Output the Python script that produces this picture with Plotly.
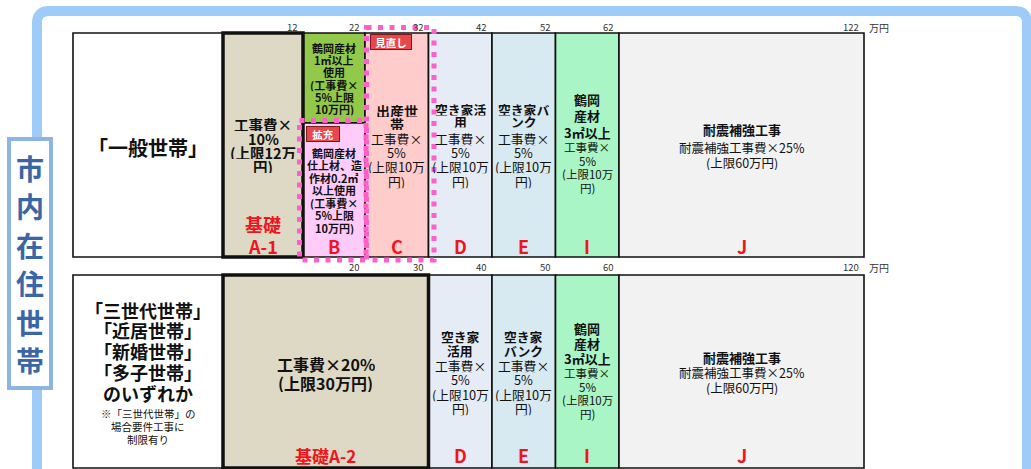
import numpy as np
import plotly.graph_objects as go

# ---------------- data ----------------
SIDE_LABEL = "市内在住世帯"
UNIT = "万円"

ROW1_LABEL = "「一般世帯」"
ROW1_SEGMENTS = ["A-1", "B", "C", "D", "E", "I", "J"]
ROW1_AMOUNTS = [12, 10, 10, 10, 10, 10, 60]          # 上限額（万円）
ROW1_TICKS = [12, 22, 32, 42, 52, 62, 122]

ROW2_LABEL_LINES = ["「三世代世帯」", "「近居世帯」", "「新婚世帯」", "「多子世帯」", "のいずれか"]
ROW2_NOTE_LINES = ["※「三世代世帯」の", "場合要件工事に", "制限有り"]
ROW2_SEGMENTS = ["A-2", "D", "E", "I", "J"]
ROW2_AMOUNTS = [30, 10, 10, 10, 60]
ROW2_TICKS = [20, 30, 40, 50, 60, 120]

# cell texts
TXT_A1 = ["工事費×", "10%", "(上限12万", "円)"]
TXT_B_GREEN = ["鶴岡産材", "1㎡以上", "使用", "(工事費×", "5%上限", "10万円)"]
TXT_B_PINK = ["鶴岡産材", "仕上材、造", "作材0.2㎡", "以上使用", "(工事費×", "5%上限", "10万円)"]
TXT_5PCT = ["工事費×", "5%", "(上限10万", "円)"]
HEAD_C = ["出産世", "帯"]
HEAD_D1 = ["空き家活", "用"]
HEAD_E1 = ["空き家バ", "ンク"]
HEAD_D2 = ["空き家", "活用"]
HEAD_E2 = ["空き家", "バンク"]
HEAD_I = ["鶴岡", "産材", "3㎡以上"]
HEAD_J = ["耐震補強工事"]
BODY_J = ["耐震補強工事費×25%", "(上限60万円)"]
TXT_A2 = ["工事費×20%", "(上限30万円)"]

# ---------------- style / layout ----------------
W, H = 1031, 469
FONT = "Noto Sans CJK JP"
# schematic (non-linear) horizontal scale: value breakpoints -> pixel positions
R1_VAL = [0, 12, 22, 62, 122]
R1_PX = [223, 303, 365, 619, 864]
R2_VAL = [0, 20, 60, 120]
R2_PX = [223, 365, 619, 864]
R1_Y = (33, 257)
R1_SPLIT = 123
R2_Y = (275, 468)
LABEL_X = (73, 223)

COLORS = {"A-1": "#DDD9C4", "A-2": "#DDD9C4", "B_top": "#92C94A", "B_bot": "#FFCCFA",
          "C": "#FFCCCC", "D": "#E6ECF5", "E": "#D7E9F1", "I": "#AAF5C6", "J": "#F2F2F2"}
RED = "#F0141E"
PINK = "#FF5FCB"
FRAME = "#9ECBF7"


def sx1(v):
    return float(np.interp(v, R1_VAL, R1_PX))


def sx2(v):
    return float(np.interp(v, R2_VAL, R2_PX))


fig = go.Figure()

thin = dict(base=[], x=[], y=[], w=[], c=[])
thick = dict(base=[], x=[], y=[], w=[], c=[])


def add_cell(store, x0, x1, y0, y1, color):
    store["base"].append(x0)
    store["x"].append(x1 - x0)
    store["y"].append((y0 + y1) / 2)
    store["w"].append(y1 - y0)
    store["c"].append(color)


centers1 = {}
start = 0
for seg, amt in zip(ROW1_SEGMENTS, ROW1_AMOUNTS):
    x0, x1 = sx1(start), sx1(start + amt)
    centers1[seg] = (x0 + x1) / 2
    if seg == "B":
        add_cell(thin, x0, x1, R1_Y[0], R1_SPLIT, COLORS["B_top"])
        add_cell(thin, x0, x1, R1_SPLIT, R1_Y[1], COLORS["B_bot"])
    elif seg.startswith("A"):
        add_cell(thick, x0, x1, R1_Y[0], R1_Y[1], COLORS[seg])
    else:
        add_cell(thin, x0, x1, R1_Y[0], R1_Y[1], COLORS[seg])
    start += amt

centers2 = {}
start = 0
for seg, amt in zip(ROW2_SEGMENTS, ROW2_AMOUNTS):
    x0, x1 = sx2(start), sx2(start + amt)
    centers2[seg] = (x0 + x1) / 2
    if seg.startswith("A"):
        add_cell(thick, x0, x1, R2_Y[0], R2_Y[1], COLORS[seg])
    else:
        add_cell(thin, x0, x1, R2_Y[0], R2_Y[1], COLORS[seg])
    start += amt

for store, lw in ((thin, 1.6), (thick, 3.5)):
    fig.add_trace(go.Bar(orientation="h", base=store["base"], x=store["x"], y=store["y"],
                         width=store["w"],
                         marker=dict(color=store["c"], line=dict(color="#111111", width=lw)),
                         hoverinfo="skip", showlegend=False))

shapes = []
# outer light-blue frame
shapes.append(dict(type="path", path="M 37,490 L 37,23 Q 37,11 49,11 L 1015,11 Q 1027,11 1027,23 L 1027,490",
                   line=dict(color=FRAME, width=10), layer="below"))
# white label cells
for (y0, y1) in (R1_Y, R2_Y):
    shapes.append(dict(type="rect", x0=LABEL_X[0], x1=LABEL_X[1], y0=y0, y1=y1,
                       line=dict(color="#111111", width=1.6), fillcolor="white", layer="below"))
# side label box
shapes.append(dict(type="rect", x0=9, x1=51, y0=139, y1=388,
                   line=dict(color="#8DB4E2", width=4), fillcolor="white", layer="below"))
# pink dotted boxes (拡充 / 見直し)
b_x0, b_x1 = sx1(12), sx1(22)
c_x1 = sx1(32)
shapes.append(dict(type="rect", x0=b_x0 - 3.5, x1=b_x1 + 1, y0=R1_SPLIT - 2.5, y1=R1_Y[1] + 3,
                   line=dict(color=PINK, width=5, dash="5px,6.5px"), layer="above"))
shapes.append(dict(type="rect", x0=b_x1 + 1.5, x1=c_x1 + 5.5, y0=R1_Y[0] - 5.5, y1=R1_Y[1] + 3,
                   line=dict(color=PINK, width=5, dash="5px,6.5px"), layer="above"))

fig.update_layout(shapes=shapes)


def add_lines(x, y0, dy, lines, size, bold=False, color="#111111"):
    for i, t in enumerate(lines):
        kw = {}
        if len(lines) > 1 and dy < size * 1.35:
            kw["height"] = dy
        fig.add_annotation(x=x, y=y0 + i * dy, text=f"<b>{t}</b>" if bold else t,
                           showarrow=False, xanchor="center", yanchor="middle", borderpad=0,
                           font=dict(size=size, color=color, family=FONT), **kw)


# side label
for i, ch in enumerate(SIDE_LABEL):
    fig.add_annotation(x=30, y=168 + i * 38.4, text=f"<b>{ch}</b>", showarrow=False, borderpad=0,
                       font=dict(size=28, color="#3A66A6", family=FONT))

# ---- row 1 ----
lab_cx = (LABEL_X[0] + LABEL_X[1]) / 2
add_lines(lab_cx, 147, 0, [ROW1_LABEL], 20, bold=True)
add_lines(centers1["A-1"], 124, 14, TXT_A1, 14.5, bold=True)
add_lines(centers1["A-1"], 224, 0, ["基礎"], 18, bold=True, color=RED)
add_lines(centers1["B"], 48, 12.2, TXT_B_GREEN, 11, bold=True)
add_lines(centers1["B"], 153, 12.5, TXT_B_PINK, 11, bold=True)
add_lines(centers1["C"], 110, 13, HEAD_C, 14, bold=True)
add_lines(centers1["C"], 138, 14.2, TXT_5PCT, 12.8)
add_lines(centers1["D"], 109, 12.5, HEAD_D1, 12.8, bold=True)
add_lines(centers1["D"], 138, 14.2, TXT_5PCT, 12.8)
add_lines(centers1["E"], 109, 12.5, HEAD_E1, 12.8, bold=True)
add_lines(centers1["E"], 138, 14.2, TXT_5PCT, 12.8)
add_lines(centers1["I"], 99, 16.5, HEAD_I, 13, bold=True)
add_lines(centers1["I"], 147, 13.5, TXT_5PCT, 11.5)
add_lines(centers1["J"], 129, 0, HEAD_J, 13, bold=True)
add_lines(centers1["J"], 147, 15, BODY_J, 12.5)
for seg in ROW1_SEGMENTS:
    add_lines(centers1[seg], 246, 0, [seg], 18, bold=True, color=RED)

# ---- row 2 ----
add_lines(lab_cx, 310, 20.8, ROW2_LABEL_LINES, 18, bold=True)
add_lines(lab_cx, 413, 13, ROW2_NOTE_LINES, 10.5)
add_lines(centers2["A-2"], 363, 19, TXT_A2, 16, bold=True)
add_lines(centers2["A-2"], 455, 0, ["基礎A-2"], 17, bold=True, color=RED)
add_lines(centers2["D"], 337, 13.5, HEAD_D2, 12.8, bold=True)
add_lines(centers2["D"], 365, 14.3, TXT_5PCT, 12.8)
add_lines(centers2["E"], 337, 13.5, HEAD_E2, 12.8, bold=True)
add_lines(centers2["E"], 365, 14.3, TXT_5PCT, 12.8)
add_lines(centers2["I"], 328, 15, HEAD_I, 13, bold=True)
add_lines(centers2["I"], 373, 13.7, TXT_5PCT, 11.5)
add_lines(centers2["J"], 357, 0, HEAD_J, 13, bold=True)
add_lines(centers2["J"], 372, 15, BODY_J, 12.5)
for seg in ROW2_SEGMENTS[1:]:
    add_lines(centers2[seg], 455, 0, [seg], 18, bold=True, color=RED)

# ---- tick labels ----
for v in ROW1_TICKS:
    fig.add_annotation(x=sx1(v) - 3, y=27, text=str(v), showarrow=False, xanchor="right",
                       yanchor="middle", font=dict(size=9.5, color="#333333", family=FONT))
fig.add_annotation(x=sx1(ROW1_TICKS[-1]) + 3, y=27, text=UNIT, showarrow=False, xanchor="left",
                   yanchor="middle", font=dict(size=10, color="#333333", family=FONT))
for v in ROW2_TICKS:
    fig.add_annotation(x=sx2(v) - 3, y=267, text=str(v), showarrow=False, xanchor="right",
                       yanchor="middle", font=dict(size=9.5, color="#333333", family=FONT))
fig.add_annotation(x=sx2(ROW2_TICKS[-1]) + 3, y=267, text=UNIT, showarrow=False, xanchor="left",
                   yanchor="middle", font=dict(size=10, color="#333333", family=FONT))

# ---- tags ----
fig.add_annotation(x=b_x0 + 19.5, y=134, text="<b>拡充</b>", showarrow=False, width=32, height=14,
                   bgcolor="#E8474B", bordercolor="#7A1C1C", borderwidth=1, borderpad=0,
                   font=dict(size=10.5, color="white", family=FONT))
fig.add_annotation(x=b_x1 + 26, y=41.5, text="<b>見直し</b>", showarrow=False, width=40, height=14,
                   bgcolor="#E8474B", bordercolor="#7A1C1C", borderwidth=1, borderpad=0,
                   font=dict(size=10.5, color="white", family=FONT))

fig.update_layout(
    width=W, height=H, margin=dict(l=0, r=0, t=0, b=0),
    paper_bgcolor="white", plot_bgcolor="white", barmode="overlay",
    xaxis=dict(range=[0, W], visible=False, fixedrange=True),
    yaxis=dict(range=[H, 0], visible=False, fixedrange=True),
    showlegend=False,
)

fig.write_html("out.html", config={"displayModeBar": False},
               post_script="document.body.style.margin='0px';")
